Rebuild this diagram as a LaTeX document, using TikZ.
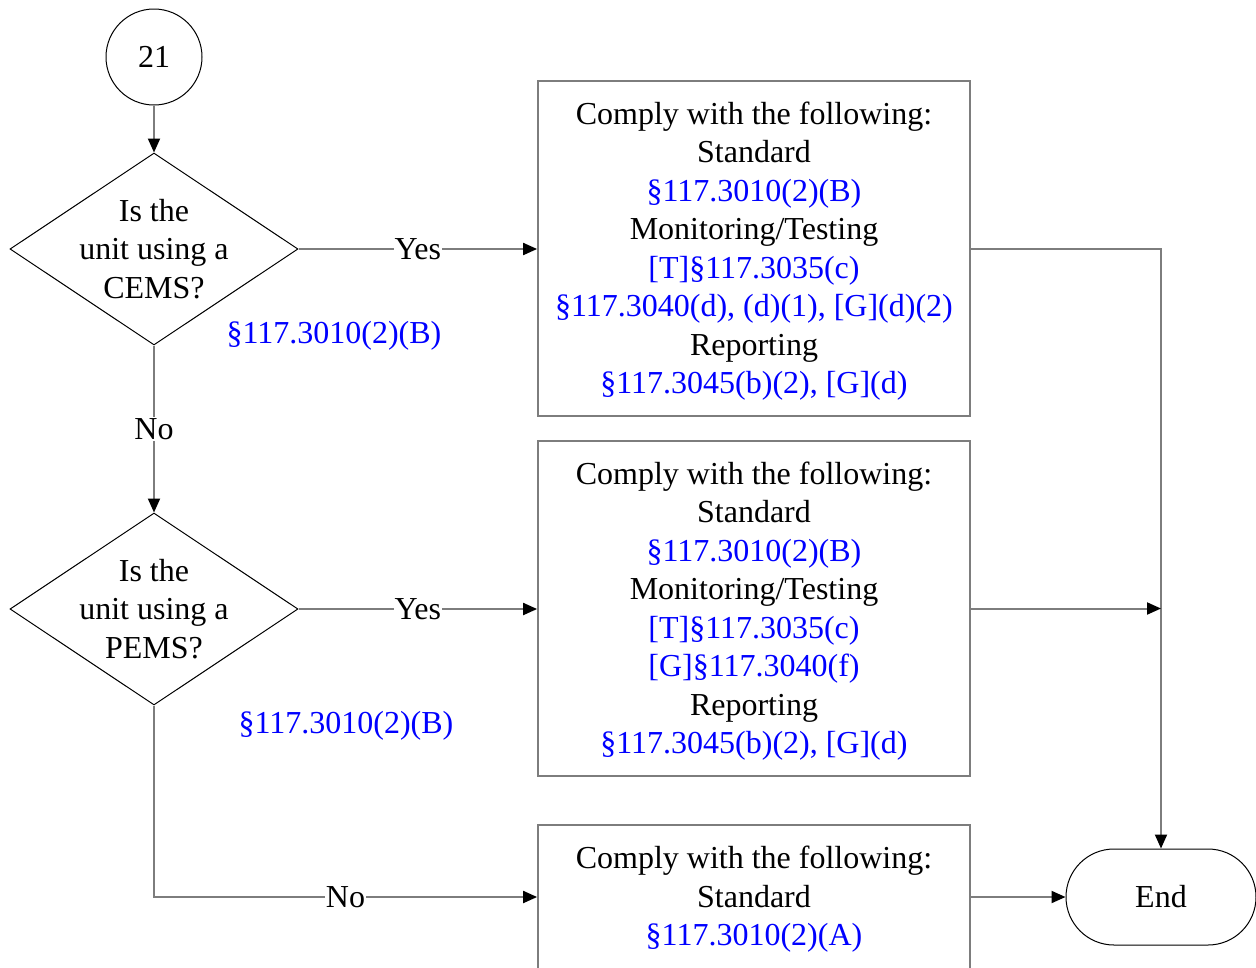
\documentclass[tikz,border=0pt]{standalone}
\usepackage{fontspec}
\setmainfont{Liberation Serif}
\usetikzlibrary{shapes.geometric,arrows.meta}
\definecolor{lin}{RGB}{125,125,125}
\definecolor{refc}{RGB}{0,0,255}
\begin{document}
\begin{tikzpicture}[x=1pt,y=-1pt,
 every node/.style={font=\fontsize{32}{38.5}\selectfont},
 conn/.style={draw=lin,line width=2pt},
 arr/.style={conn,-{Triangle[length=14pt,width=12pt,color=black]}},
 dec/.style={diamond,draw=black,line width=1pt,minimum width=288pt,minimum height=192pt,inner sep=0pt},
 cbox/.style={rectangle,draw=lin,line width=1.8pt,minimum width=432pt,align=center,inner sep=0pt},
 lbl/.style={fill=white,inner sep=1pt},
 reftxt/.style={text=refc}]
\fill[white] (0,0) rectangle (1256,967);
\clip (0,0) rectangle (1256,967);
\node[circle,draw=black,line width=1pt,minimum size=96pt,inner sep=0pt] (c21) at (154,57) {21};
\node[dec,label={[align=center]center:Is the\\unit using a\\CEMS?}] (d1) at (154,249) {};
\node[dec,label={[align=center]center:Is the\\unit using a\\PEMS?}] (d2) at (154,609) {};
\node[cbox,minimum height=335pt] (b1) at (754,248.5) {\rule{0pt}{28pt}Comply with the following:\\Standard\\\textcolor{refc}{§117.3010(2)(B)}\\Monitoring/Testing\\\textcolor{refc}{[T]§117.3035(c)}\\\textcolor{refc}{§117.3040(d), (d)(1), [G](d)(2)}\\Reporting\\\textcolor{refc}{§117.3045(b)(2), [G](d)}};
\node[cbox,minimum height=335pt] (b2) at (754,608.5) {\rule{0pt}{28pt}Comply with the following:\\Standard\\\textcolor{refc}{§117.3010(2)(B)}\\Monitoring/Testing\\\textcolor{refc}{[T]§117.3035(c)}\\\textcolor{refc}{[G]§117.3040(f)}\\Reporting\\\textcolor{refc}{§117.3045(b)(2), [G](d)}};
\node[cbox,minimum height=149pt] (b3) at (754,899.5) {Comply with the following:\\Standard\\\textcolor{refc}{§117.3010(2)(A)}};
\node[rectangle,draw=black,line width=1pt,rounded corners=48pt,minimum width=190pt,minimum height=96pt,inner sep=0pt] (endn) at (1161,897) {End};
\node[reftxt] (r1) at (334,336) {§117.3010(2)(B)};
\node[reftxt] (r2) at (346,726) {§117.3010(2)(B)};
\draw[arr] (c21.south) -- (d1.north);
\draw[arr] (d1.east) -- node[lbl]{Yes} (d1.east -| b1.west);
\draw[arr] (d1.south) -- node[lbl]{No} (d2.north);
\draw[arr] (d2.east) -- node[lbl]{Yes} (d2.east -| b2.west);
\draw[arr] (d2.south) |- node[pos=0.75,lbl]{No} (b3.west |- endn.west);
\draw[arr] (b1.east) -| (endn.north);
\draw[arr] (b2.east) -- (b2.east -| endn.north);
\draw[arr] (b3.east |- endn.west) -- (endn.west);
\end{tikzpicture}
\end{document}
